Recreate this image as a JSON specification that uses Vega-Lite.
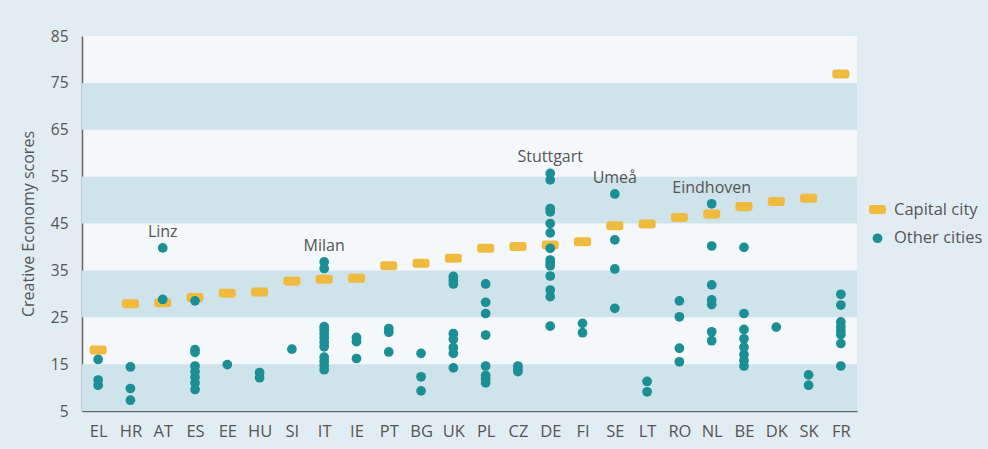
{
  "$schema": "https://vega.github.io/schema/vega-lite/v6.json",
  "autosize": {"type": "none"},
  "padding": {"left": 82, "top": 36, "right": 131, "bottom": 38},
  "width": 775,
  "height": 375,
  "background": "#e2edf3",
  "config": {
    "view": {"fill": "#f4f8fb", "stroke": null},
    "font": "Open Sans"
  },
  "datasets": {
    "bands": [{"lo": 5, "hi": 15}, {"lo": 25, "hi": 35}, {"lo": 45, "hi": 55}, {"lo": 65, "hi": 75}],
    "pts": [
      {"c": "EL", "t": "Capital city", "v": 18.0},
      {"c": "HR", "t": "Capital city", "v": 27.9},
      {"c": "AT", "t": "Capital city", "v": 28.1},
      {"c": "ES", "t": "Capital city", "v": 29.2},
      {"c": "EE", "t": "Capital city", "v": 30.1},
      {"c": "HU", "t": "Capital city", "v": 30.4},
      {"c": "SI", "t": "Capital city", "v": 32.7},
      {"c": "IT", "t": "Capital city", "v": 33.1},
      {"c": "IE", "t": "Capital city", "v": 33.3},
      {"c": "PT", "t": "Capital city", "v": 36.0},
      {"c": "BG", "t": "Capital city", "v": 36.5},
      {"c": "UK", "t": "Capital city", "v": 37.6},
      {"c": "PL", "t": "Capital city", "v": 39.7},
      {"c": "CZ", "t": "Capital city", "v": 40.1},
      {"c": "DE", "t": "Capital city", "v": 40.4},
      {"c": "FI", "t": "Capital city", "v": 41.1},
      {"c": "SE", "t": "Capital city", "v": 44.5},
      {"c": "LT", "t": "Capital city", "v": 44.9},
      {"c": "RO", "t": "Capital city", "v": 46.3},
      {"c": "NL", "t": "Capital city", "v": 47.0},
      {"c": "BE", "t": "Capital city", "v": 48.6},
      {"c": "DK", "t": "Capital city", "v": 49.7},
      {"c": "SK", "t": "Capital city", "v": 50.4},
      {"c": "FR", "t": "Capital city", "v": 76.9},
      {"c": "EL", "t": "Other cities", "v": 16.0},
      {"c": "EL", "t": "Other cities", "v": 11.6},
      {"c": "EL", "t": "Other cities", "v": 10.5},
      {"c": "HR", "t": "Other cities", "v": 14.4},
      {"c": "HR", "t": "Other cities", "v": 9.8},
      {"c": "HR", "t": "Other cities", "v": 7.3},
      {"c": "AT", "t": "Other cities", "v": 39.8, "city": "Linz"},
      {"c": "AT", "t": "Other cities", "v": 28.8},
      {"c": "ES", "t": "Other cities", "v": 28.5},
      {"c": "ES", "t": "Other cities", "v": 18.1},
      {"c": "ES", "t": "Other cities", "v": 17.5},
      {"c": "ES", "t": "Other cities", "v": 14.6},
      {"c": "ES", "t": "Other cities", "v": 13.4},
      {"c": "ES", "t": "Other cities", "v": 12.2},
      {"c": "ES", "t": "Other cities", "v": 11.0},
      {"c": "ES", "t": "Other cities", "v": 9.6},
      {"c": "EE", "t": "Other cities", "v": 14.9},
      {"c": "HU", "t": "Other cities", "v": 13.2},
      {"c": "HU", "t": "Other cities", "v": 12.1},
      {"c": "SI", "t": "Other cities", "v": 18.2},
      {"c": "IT", "t": "Other cities", "v": 36.8, "city": "Milan"},
      {"c": "IT", "t": "Other cities", "v": 35.4},
      {"c": "IT", "t": "Other cities", "v": 23.0},
      {"c": "IT", "t": "Other cities", "v": 22.3},
      {"c": "IT", "t": "Other cities", "v": 21.5},
      {"c": "IT", "t": "Other cities", "v": 20.6},
      {"c": "IT", "t": "Other cities", "v": 19.6},
      {"c": "IT", "t": "Other cities", "v": 18.7},
      {"c": "IT", "t": "Other cities", "v": 16.5},
      {"c": "IT", "t": "Other cities", "v": 15.6},
      {"c": "IT", "t": "Other cities", "v": 14.7},
      {"c": "IT", "t": "Other cities", "v": 13.8},
      {"c": "IE", "t": "Other cities", "v": 20.7},
      {"c": "IE", "t": "Other cities", "v": 19.8},
      {"c": "IE", "t": "Other cities", "v": 16.2},
      {"c": "PT", "t": "Other cities", "v": 22.6},
      {"c": "PT", "t": "Other cities", "v": 21.8},
      {"c": "PT", "t": "Other cities", "v": 17.6},
      {"c": "BG", "t": "Other cities", "v": 17.3},
      {"c": "BG", "t": "Other cities", "v": 12.3},
      {"c": "BG", "t": "Other cities", "v": 9.3},
      {"c": "UK", "t": "Other cities", "v": 33.7},
      {"c": "UK", "t": "Other cities", "v": 32.9},
      {"c": "UK", "t": "Other cities", "v": 32.1},
      {"c": "UK", "t": "Other cities", "v": 21.5},
      {"c": "UK", "t": "Other cities", "v": 20.3},
      {"c": "UK", "t": "Other cities", "v": 18.5},
      {"c": "UK", "t": "Other cities", "v": 17.3},
      {"c": "UK", "t": "Other cities", "v": 14.2},
      {"c": "PL", "t": "Other cities", "v": 32.1},
      {"c": "PL", "t": "Other cities", "v": 28.2},
      {"c": "PL", "t": "Other cities", "v": 25.8},
      {"c": "PL", "t": "Other cities", "v": 21.2},
      {"c": "PL", "t": "Other cities", "v": 14.6},
      {"c": "PL", "t": "Other cities", "v": 12.6},
      {"c": "PL", "t": "Other cities", "v": 11.8},
      {"c": "PL", "t": "Other cities", "v": 11.0},
      {"c": "CZ", "t": "Other cities", "v": 14.6},
      {"c": "CZ", "t": "Other cities", "v": 14.0},
      {"c": "CZ", "t": "Other cities", "v": 13.4},
      {"c": "DE", "t": "Other cities", "v": 55.7, "city": "Stuttgart"},
      {"c": "DE", "t": "Other cities", "v": 54.3},
      {"c": "DE", "t": "Other cities", "v": 48.2},
      {"c": "DE", "t": "Other cities", "v": 47.5},
      {"c": "DE", "t": "Other cities", "v": 45.0},
      {"c": "DE", "t": "Other cities", "v": 43.0},
      {"c": "DE", "t": "Other cities", "v": 39.7},
      {"c": "DE", "t": "Other cities", "v": 37.2},
      {"c": "DE", "t": "Other cities", "v": 36.6},
      {"c": "DE", "t": "Other cities", "v": 36.0},
      {"c": "DE", "t": "Other cities", "v": 33.8},
      {"c": "DE", "t": "Other cities", "v": 30.8},
      {"c": "DE", "t": "Other cities", "v": 29.4},
      {"c": "DE", "t": "Other cities", "v": 23.1},
      {"c": "FI", "t": "Other cities", "v": 23.7},
      {"c": "FI", "t": "Other cities", "v": 21.7},
      {"c": "SE", "t": "Other cities", "v": 51.3, "city": "Umeå"},
      {"c": "SE", "t": "Other cities", "v": 41.5},
      {"c": "SE", "t": "Other cities", "v": 35.3},
      {"c": "SE", "t": "Other cities", "v": 26.9},
      {"c": "LT", "t": "Other cities", "v": 11.3},
      {"c": "LT", "t": "Other cities", "v": 9.1},
      {"c": "RO", "t": "Other cities", "v": 28.5},
      {"c": "RO", "t": "Other cities", "v": 25.1},
      {"c": "RO", "t": "Other cities", "v": 18.4},
      {"c": "RO", "t": "Other cities", "v": 15.5},
      {"c": "NL", "t": "Other cities", "v": 49.2, "city": "Eindhoven"},
      {"c": "NL", "t": "Other cities", "v": 40.2},
      {"c": "NL", "t": "Other cities", "v": 31.9},
      {"c": "NL", "t": "Other cities", "v": 28.7},
      {"c": "NL", "t": "Other cities", "v": 27.7},
      {"c": "NL", "t": "Other cities", "v": 21.9},
      {"c": "NL", "t": "Other cities", "v": 20.0},
      {"c": "BE", "t": "Other cities", "v": 39.9},
      {"c": "BE", "t": "Other cities", "v": 25.8},
      {"c": "BE", "t": "Other cities", "v": 22.4},
      {"c": "BE", "t": "Other cities", "v": 20.4},
      {"c": "BE", "t": "Other cities", "v": 18.6},
      {"c": "BE", "t": "Other cities", "v": 17.0},
      {"c": "BE", "t": "Other cities", "v": 15.8},
      {"c": "BE", "t": "Other cities", "v": 14.6},
      {"c": "DK", "t": "Other cities", "v": 22.9},
      {"c": "SK", "t": "Other cities", "v": 12.7},
      {"c": "SK", "t": "Other cities", "v": 10.5},
      {"c": "FR", "t": "Other cities", "v": 29.9},
      {"c": "FR", "t": "Other cities", "v": 27.6},
      {"c": "FR", "t": "Other cities", "v": 24.0},
      {"c": "FR", "t": "Other cities", "v": 23.0},
      {"c": "FR", "t": "Other cities", "v": 22.1},
      {"c": "FR", "t": "Other cities", "v": 21.3},
      {"c": "FR", "t": "Other cities", "v": 19.4},
      {"c": "FR", "t": "Other cities", "v": 14.6}
    ]
  },
  "layer": [
    {
      "data": {"name": "bands"},
      "mark": {"type": "rect", "fill": "#cfe3ea"},
      "encoding": {
        "y": {"field": "lo", "type": "quantitative", "scale": {"domain": [5, 85], "nice": false, "zero": false}},
        "y2": {"field": "hi"}
      }
    },
    {
      "data": {"name": "pts"},
      "mark": {"type": "point", "filled": true, "opacity": 1, "strokeWidth": 0},
      "encoding": {
        "x": {
          "field": "c", "type": "nominal", "sort": null,
          "scale": {"type": "point", "padding": 0.5},
          "axis": {
            "title": null, "labelAngle": 0, "ticks": false, "labelPadding": 12,
            "labelFontSize": 16.5, "labelColor": "#555555", "domainColor": "#666666", "domainWidth": 1.5,
            "labelFont": "Open Sans"
          }
        },
        "y": {
          "field": "v", "type": "quantitative",
          "scale": {"domain": [5, 85], "nice": false, "zero": false},
          "axis": {
            "title": "Creative Economy scores", "values": [5, 15, 25, 35, 45, 55, 65, 75, 85],
            "grid": false, "ticks": false, "labelPadding": 14, "labelFontSize": 15.5,
            "labelColor": "#555555", "domainColor": "#666666", "domainWidth": 1.5,
            "titleFontSize": 16, "titleFontWeight": "normal", "titleColor": "#555555", "titlePadding": 14,
            "labelFont": "Open Sans", "titleFont": "Open Sans"
          }
        },
        "color": {
          "field": "t", "type": "nominal",
          "scale": {"domain": ["Capital city", "Other cities"], "range": ["#f0ba3e", "#1b8f95"]},
          "legend": {
            "title": null, "orient": "none", "legendX": 786, "legendY": 164,
            "labelFontSize": 16.5, "labelColor": "#555555", "labelFont": "Open Sans",
            "rowPadding": 12, "labelOffset": 7
          }
        },
        "shape": {
          "field": "t", "type": "nominal",
          "scale": {"domain": ["Capital city", "Other cities"], "range": ["M-0.7,-0.53 H0.7 A0.3,0.3 0 0 1 1,-0.23 V0.23 A0.3,0.3 0 0 1 0.7,0.53 H-0.7 A0.3,0.3 0 0 1 -1,0.23 V-0.23 A0.3,0.3 0 0 1 -0.7,-0.53 Z", "circle"]}
        },
        "size": {
          "field": "t", "type": "nominal",
          "scale": {"domain": ["Capital city", "Other cities"], "range": [289, 95]}
        }
      }
    },
    {
      "data": {"name": "pts"},
      "transform": [{"filter": "isString(datum.city)"}],
      "mark": {"type": "text", "dy": -16, "fontSize": 16, "color": "#555555", "font": "Open Sans", "baseline": "middle"},
      "encoding": {
        "x": {"field": "c", "type": "nominal", "sort": null},
        "y": {"field": "v", "type": "quantitative"},
        "text": {"field": "city"}
      }
    }
  ]
}
